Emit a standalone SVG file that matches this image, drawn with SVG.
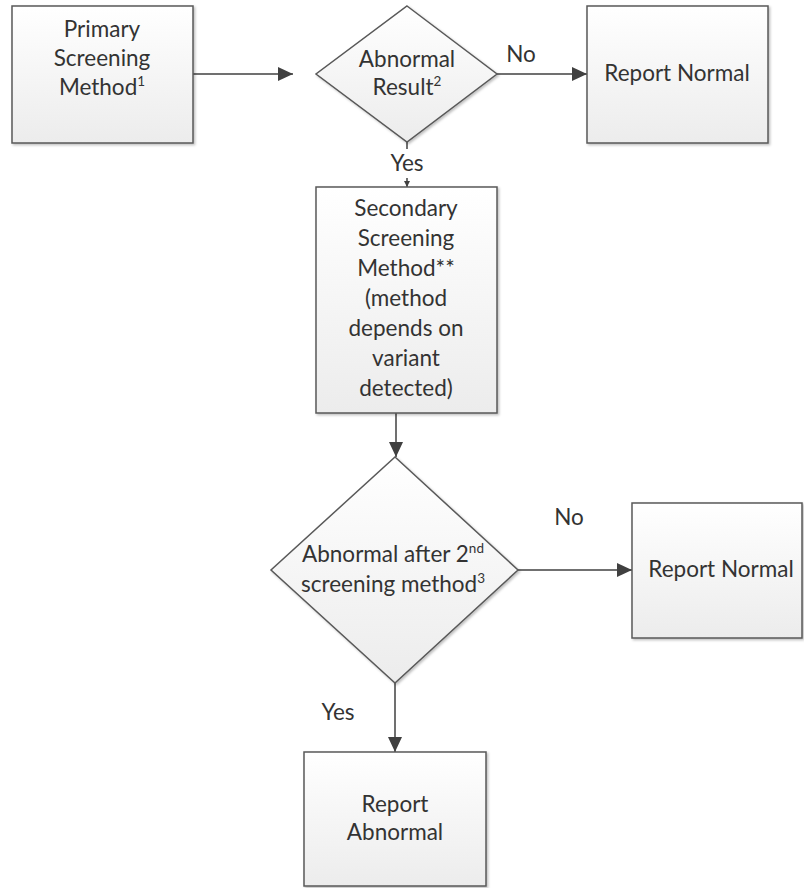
<svg xmlns="http://www.w3.org/2000/svg" width="804" height="888" viewBox="0 0 804 888">
<style>
.shape{fill:url(#g);stroke:#595959;stroke-width:1.5;filter:url(#sh)}
.t{font-family:Lato,"Liberation Sans",sans-serif;font-size:22.5px;fill:#333;text-anchor:middle}
.sup{font-size:13.5px}
.c{stroke:#404040;stroke-width:1.5;fill:none}
</style>
<defs>
<linearGradient id="g" x1="0" y1="0" x2="0" y2="1">
<stop offset="0" stop-color="#ffffff"/>
<stop offset="1" stop-color="#ececec"/>
</linearGradient>
<filter id="sh" x="-10%" y="-10%" width="120%" height="120%">
<feDropShadow dx="1.5" dy="1.5" stdDeviation="1.2" flood-color="#000" flood-opacity="0.25"/>
</filter>
<marker id="ah" markerWidth="15" markerHeight="14" refX="15" refY="7" orient="auto" markerUnits="userSpaceOnUse">
<path d="M0,0 L15,7 L0,14 Z" fill="#404040"/>
</marker>
<marker id="ahs" markerWidth="6" markerHeight="6" refX="6" refY="3" orient="auto" markerUnits="userSpaceOnUse">
<path d="M0,0 L6,3 L0,6 Z" fill="#404040"/>
</marker>
</defs>

<g id="connectors">
<line class="c" x1="193" y1="74" x2="293" y2="74" marker-end="url(#ah)"/>
<line class="c" x1="497" y1="74" x2="587" y2="74" marker-end="url(#ah)"/>
<line class="c" x1="407" y1="142" x2="407" y2="187" marker-end="url(#ahs)"/>
<rect x="388" y="149" width="38" height="29" fill="#fff"/>
<line class="c" x1="396" y1="413" x2="396" y2="457" marker-end="url(#ah)"/>
<line class="c" x1="518" y1="570" x2="632" y2="570" marker-end="url(#ah)"/>
<line class="c" x1="395" y1="683" x2="395" y2="752" marker-end="url(#ah)"/>
<text class="t" x="521" y="62">No</text>
<text class="t" x="407" y="171">Yes</text>
<text class="t" x="569" y="525">No</text>
<text class="t" x="338" y="720">Yes</text>
</g>

<g id="primary">
<rect class="shape" x="12" y="6" width="181" height="137"/>
<text class="t" x="102" y="37">Primary</text>
<text class="t" x="102" y="66">Screening</text>
<text class="t" x="102" y="95">Method<tspan class="sup" dy="-9">1</tspan></text>
</g>

<g id="decision1">
<polygon class="shape" points="407,6 497,74 407,142 316,74"/>
<text class="t" x="407" y="67">Abnormal</text>
<text class="t" x="407" y="95">Result<tspan class="sup" dy="-9">2</tspan></text>
</g>

<g id="normal1">
<rect class="shape" x="587" y="6" width="181" height="137"/>
<text class="t" x="677" y="81">Report Normal</text>
</g>

<g id="secondary">
<rect class="shape" x="316" y="187" width="181" height="226"/>
<text class="t" x="406" y="216">Secondary</text>
<text class="t" x="406" y="246">Screening</text>
<text class="t" x="406" y="276">Method**</text>
<text class="t" x="406" y="306">(method</text>
<text class="t" x="406" y="336">depends on</text>
<text class="t" x="406" y="366">variant</text>
<text class="t" x="406" y="396">detected)</text>
</g>

<g id="decision2">
<polygon class="shape" points="395,457 518,570 395,683 271,570"/>
<text class="t" x="393" y="562">Abnormal after 2<tspan class="sup" dy="-9">nd</tspan></text>
<text class="t" x="393" y="592">screening method<tspan class="sup" dy="-9">3</tspan></text>
</g>

<g id="normal2">
<rect class="shape" x="632" y="503" width="170" height="135"/>
<text class="t" x="721" y="577">Report Normal</text>
</g>

<g id="abnormal">
<rect class="shape" x="304" y="752" width="182" height="134"/>
<text class="t" x="395" y="812">Report</text>
<text class="t" x="395" y="840">Abnormal</text>
</g>
</svg>
